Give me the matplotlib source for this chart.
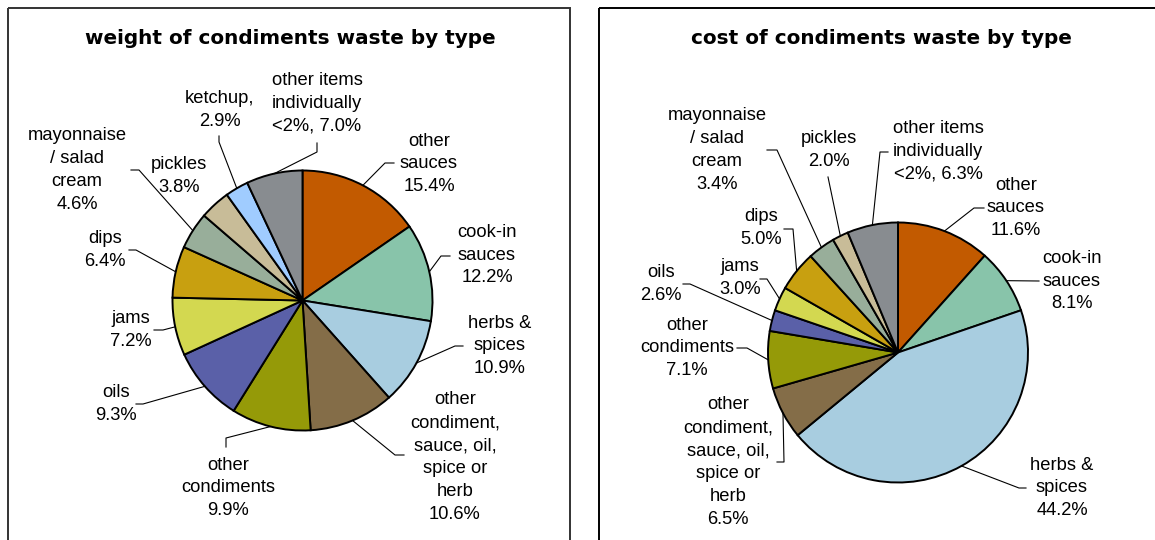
import numpy as np
import matplotlib
matplotlib.use("Agg")
from matplotlib import pyplot as plt
from matplotlib.patches import Rectangle

# %%
# data
weight_names = ["other\nsauces", "cook-in\nsauces", "herbs &\nspices",
                "other\ncondiment,\nsauce, oil,\nspice or\nherb", "other\ncondiments",
                "oils", "jams", "dips", "mayonnaise\n/ salad\ncream", "pickles",
                "ketchup,", "other items\nindividually\n<2%,"]
weight_pct = [15.4, 12.2, 10.9, 10.6, 9.9, 9.3, 7.2, 6.4, 4.6, 3.8, 2.9, 7.0]

cost_names = ["other\nsauces", "cook-in\nsauces", "herbs &\nspices",
              "other\ncondiment,\nsauce, oil,\nspice or\nherb", "other\ncondiments",
              "oils", "jams", "dips", "mayonnaise\n/ salad\ncream", "pickles",
              "other items\nindividually\n<2%,"]
cost_pct = [11.6, 8.1, 44.2, 6.5, 7.1, 2.6, 3.0, 5.0, 3.4, 2.0, 6.3]

titles = ["weight of condiments waste by type", "cost of condiments waste by type"]

colour_of = {"other\nsauces": "#C25A00", "cook-in\nsauces": "#88C4AA",
             "herbs &\nspices": "#A8CDE0",
             "other\ncondiment,\nsauce, oil,\nspice or\nherb": "#846D48",
             "other\ncondiments": "#959A08", "oils": "#5A60A8", "jams": "#D3D850",
             "dips": "#C8A010", "mayonnaise\n/ salad\ncream": "#98AE9A",
             "pickles": "#C8BC98", "ketchup,": "#A0CCFF",
             "other items\nindividually\n<2%,": "#888C90"}

# %%
# layout in pixel coords (y down): pie centre/radius, label centres, leader elbows
left_pie = dict(center=(302.5, 300.5), r=130)
right_pie = dict(center=(898, 352.5), r=130)

left_text = [(429, 164), (487, 255), (500, 346), (455, 457), (228, 488), (116, 404),
             (131, 330), (105, 250), (77, 170), (179, 176), (220, 110), (317, 103)]
left_lead = [[(385, 163), (394, 163)], [(441, 256), (450, 256)], [(455, 346), (463, 346)],
             [(395, 455), (404, 455)], [(226, 438), (226, 447)], [(143, 404), (136, 404)],
             [(163, 330), (154, 330)], [(136, 250), (129, 250)], [(139, 170), (131, 170)],
             None, [(219, 142), (219, 136)], [(317, 152), (317, 143)]]

right_text = [(1016, 208), (1072, 281), (1062, 488), (728, 462), (687, 348), (661, 284),
              (740, 278), (761, 228), (717, 150), (829, 150), (938, 151)]
right_lead = [[(974, 208), (984, 208)], [(1039, 281)], [(1019, 488), (1026, 488)],
              [(784, 462), (777, 462)], [(747, 348), (737, 348)], [(690, 284), (683, 284)],
              [(767, 279), (760, 279)], [(793, 229), (784, 229)], [(777, 150), (767, 150)],
              [(828, 177)], [(880, 152), (888, 152)]]

# %%
fig = plt.figure(figsize=(11.55, 5.4), dpi=100)
ax = fig.add_axes([0, 0, 1, 1])


def draw_pie(names, pct, pie, text_pos, leads, title, title_x):
    cx, cy = pie["center"]
    r = pie["r"]
    ax.pie(pct, colors=[colour_of[n] for n in names], center=(cx, cy), radius=r,
           startangle=270, counterclock=True, frame=True,
           wedgeprops=dict(edgecolor="black", linewidth=1.4))
    frac = np.array(pct) / np.sum(pct)
    mids = np.cumsum(frac) - frac / 2
    for name, p, f, tp, lead in zip(names, pct, mids, text_pos, leads):
        sep = " " if name.endswith("<2%,") else "\n"
        ax.text(tp[0], tp[1], name + sep + "%.1f%%" % p, ha="center", va="center",
                fontsize=13.2, family="Liberation Sans", linespacing=1.45)
        if lead is None:
            continue
        th = np.deg2rad(270 + 360 * f)
        pts = [(cx + r * np.cos(th), cy + r * np.sin(th))] + lead
        xs, ys = zip(*pts)
        ax.plot(xs, ys, color="black", lw=0.8)
    ax.text(title_x, 38, title, ha="center", va="center", fontsize=14.4,
            fontweight="bold", family="DejaVu Sans")


draw_pie(weight_names, weight_pct, left_pie, left_text, left_lead, titles[0], 290)
draw_pie(cost_names, cost_pct, right_pie, right_text, right_lead, titles[1], 881)

# panel borders
ax.add_patch(Rectangle((8, 8), 562, 560, fill=False, edgecolor="#333333", lw=1.4))
ax.add_patch(Rectangle((599, 8), 600, 560, fill=False, edgecolor="black", lw=1.4))

ax.set_xlim(0, 1155)
ax.set_ylim(540, 0)
ax.set_aspect("equal")
ax.axis("off")

plt.savefig("out.png", dpi=100, facecolor="white")
